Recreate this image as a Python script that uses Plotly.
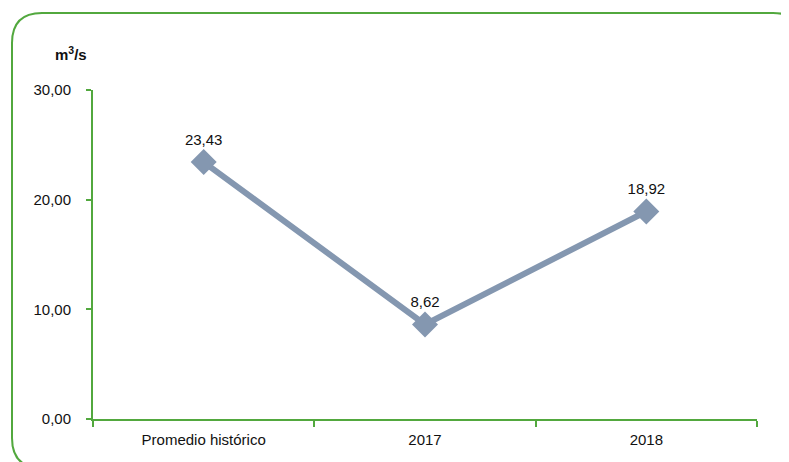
import plotly.graph_objects as go

categories = ["Promedio histórico", "2017", "2018"]
values = [23.43, 8.62, 18.92]
y_ticks = [0, 10, 20, 30]

# the page adds an 8px body margin; work in page pixels and shift
OFF = 8
W, H = 789 - OFF, 462 - OFF
PL, PR, PT, PB = 93, 757, 90, 419  # plot area in page pixels
L, T = PL - OFF, PT - OFF
R, B = W - (PR - OFF), H - (PB - OFF)
PW, PH = PR - PL, PB - PT

def px(x):
    return (x - PL) / PW

def py(y):
    return (PB - y) / PH

green = "#52a83e"
line_col = "#8497B0"
font_family = "Liberation Sans, Arial, sans-serif"

fig = go.Figure()
fig.add_trace(go.Scatter(
    x=categories, y=values, mode="lines+markers+text",
    line=dict(color=line_col, width=6),
    marker=dict(symbol="diamond", size=20, color=line_col),
    texttemplate="%{y:.2f}", textposition="top center",
    textfont=dict(size=15, color="#111111", family=font_family),
    cliponaxis=False, showlegend=False,
))

# rounded frame around the chart
x0, y0, x1, y1, r = 12, 13, 803, 468, 30
path = (
    f"M {px(x0)},{py(y0 + r)} Q {px(x0)},{py(y0)} {px(x0 + r)},{py(y0)} "
    f"L {px(x1 - r)},{py(y0)} Q {px(x1)},{py(y0)} {px(x1)},{py(y0 + r)} "
    f"L {px(x1)},{py(y1 - r)} Q {px(x1)},{py(y1)} {px(x1 - r)},{py(y1)} "
    f"L {px(x0 + r)},{py(y1)} Q {px(x0)},{py(y1)} {px(x0)},{py(y1 - r)} Z"
)
fig.add_shape(type="path", xref="paper", yref="paper", path=path,
              line=dict(color=green, width=2), layer="below")

fig.add_annotation(text="<b>m<sup>3</sup>/s</b>", xref="paper", yref="paper",
                   x=px(71), y=py(53), xanchor="center", yanchor="middle",
                   showarrow=False,
                   font=dict(size=15, color="#111111", family=font_family))

fig.update_layout(
    width=W, height=H,
    margin=dict(l=L, r=R, t=T, b=B),
    paper_bgcolor="white", plot_bgcolor="white",
    separators=",.",
    font=dict(family=font_family, size=15, color="#111111"),
    xaxis=dict(
        type="category", tickson="boundaries", ticks="outside", ticklen=6,
        tickwidth=2, tickcolor=green, showline=True, linecolor=green,
        linewidth=2, showgrid=False, zeroline=False, range=[-0.5, 2.5],
        ticklabelstandoff=6, tickfont=dict(size=15),
    ),
    yaxis=dict(
        range=[0, 30], tickvals=y_ticks, tickformat=".2f", ticks="outside",
        ticklen=5, tickwidth=2, tickcolor=green, showline=True,
        linecolor=green, linewidth=2, showgrid=False, zeroline=False,
        ticklabelstandoff=12, tickfont=dict(size=15),
    ),
)

fig.write_html("out.html")
